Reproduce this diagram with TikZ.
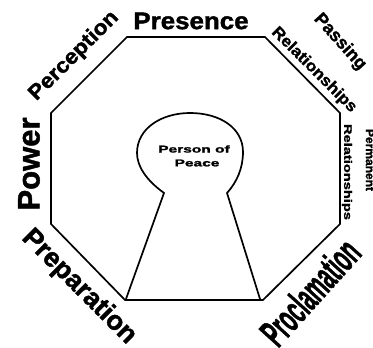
\documentclass[tikz,border=0pt]{standalone}
\usepackage{fontspec}
\setmainfont{Liberation Sans}
\newfontfamily\heavy{Liberation Sans}[UprightFeatures={FakeBold=1.5},BoldFeatures={FakeBold=1.5}]
\begin{document}
\begin{tikzpicture}[x=1pt,y=1pt,
  edge/.style={line width=1.7pt,line join=miter},
  lbl/.style={inner sep=0pt,transform shape}]
\fill[white] (0,0) rectangle (373,348);
\useasboundingbox (0,0) rectangle (373,348);
% octagon vertices
\coordinate (A) at (127,311);
\coordinate (B) at (265,311);
\coordinate (C) at (340,235);
\coordinate (D) at (340,124);
\coordinate (E) at (263,48);
\coordinate (F) at (125,48);
\coordinate (G) at (51,124);
\coordinate (H) at (51,235);
\draw[edge] (A) -- (B) -- (C) -- (D) -- (E) -- (F) -- (G) -- (H) -- cycle;
% keyhole
\coordinate (NL) at (164,155);
\coordinate (NR) at (227,155);
\coordinate (LB) at (126,49);
\coordinate (RB) at (260,49);
\draw[edge] (LB) -- (NL) .. controls (146,168) and (137,182) .. (137,195)
  .. controls (137,220) and (162,235) .. (190,235)
  .. controls (220,235) and (243,220) .. (243,196)
  .. controls (243,180) and (237,166) .. (NR) -- (RB);
% labels
\node[lbl,font=\heavy\bfseries\fontsize{10}{10}\selectfont,xscale=1.55] (p1) at (194,199) {Person of};
\node[lbl,font=\heavy\bfseries\fontsize{10}{10}\selectfont,xscale=1.55] (p2) at (197,185) {Peace};
\node[lbl,font=\heavy\bfseries\fontsize{24}{24}\selectfont,xscale=1.08] (pres) at (191,327) {Presence};
\node[lbl,font=\heavy\bfseries\fontsize{21}{21}\selectfont,rotate=45,xscale=1.08] (perc) at (74,292) {Perception};
\node[lbl,font=\heavy\bfseries\fontsize{18}{18}\selectfont,rotate=-48] (pass) at (340,306) {Passing};
\node[lbl,font=\heavy\bfseries\fontsize{16}{16}\selectfont,rotate=-45,xscale=1.08] (rel1) at (314,278) {Relationships};
\node[lbl,font=\heavy\bfseries\fontsize{11}{11}\selectfont,rotate=-90,xscale=1.33] (rel2) at (347,176) {Relationships};
\node[lbl,font=\heavy\bfseries\fontsize{12}{12}\selectfont,rotate=-90] (perm) at (370,188) {Permanent};
\node[lbl,font=\heavy\bfseries\fontsize{31}{31}\selectfont,rotate=90] (pow) at (29,184) {Power};
\node[lbl,font=\heavy\bfseries\fontsize{27}{27}\selectfont,rotate=-45] (prep) at (79,61) {Preparation};
\node[lbl,font=\heavy\bfseries\fontsize{40}{40}\selectfont,rotate=48,xscale=0.5] (proc) at (310,56) {Proclamation};
\end{tikzpicture}
\end{document}
